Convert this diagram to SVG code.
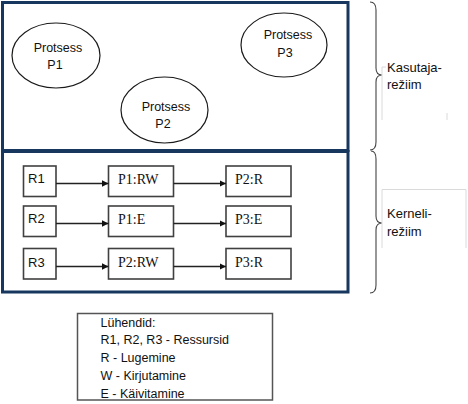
<svg xmlns="http://www.w3.org/2000/svg" width="468" height="404" viewBox="0 0 468 404">
<style>
.frame{fill:none;stroke:#17375e;stroke-width:3}
.ell{fill:#fff;stroke:#1a1a1a;stroke-width:1.2}
.box{fill:#fff;stroke:#404040;stroke-width:1.6}
.conn{stroke:#222;stroke-width:1.3;fill:none}
.brace{fill:none;stroke:#444;stroke-width:1.1}
.faint{fill:none;stroke:#dadada;stroke-width:1}
.cal{font-family:"Liberation Sans",Arial,sans-serif;font-size:12.5px;fill:#111}
.ser{font-family:"Liberation Serif","Times New Roman",serif;font-size:14px;fill:#111}
.mid{text-anchor:middle}
</style>
<defs>
<marker id="ah" viewBox="0 0 10 10" refX="10" refY="5" markerWidth="6.5" markerHeight="6.5" markerUnits="userSpaceOnUse" orient="auto">
<path d="M0,0 L10,5 L0,10 z" fill="#111"/>
</marker>
</defs>
<rect x="0" y="0" width="468" height="404" fill="#fff"/>
<g id="frame">
<rect class="frame" x="2.5" y="2.5" width="345.5" height="148"/>
<rect class="frame" x="2.5" y="151.5" width="345.5" height="140.5"/>
</g>
<g id="P1">
<ellipse class="ell" cx="56" cy="55.5" rx="44" ry="32.5"/>
<text class="cal mid" x="58" y="52">Protsess</text>
<text class="cal mid" x="55" y="69">P1</text>
</g>
<g id="P2">
<ellipse class="ell" cx="164.5" cy="110" rx="43.5" ry="33"/>
<text class="cal mid" x="166" y="111">Protsess</text>
<text class="cal mid" x="163" y="128">P2</text>
</g>
<g id="P3">
<ellipse class="ell" cx="284" cy="45" rx="43" ry="32"/>
<text class="cal mid" x="288" y="39">Protsess</text>
<text class="cal mid" x="285" y="57">P3</text>
</g>
<g id="R1"><rect class="box" x="23.5" y="166" width="32.5" height="30.5"/><text class="cal" x="28" y="183" style="font-size:13px">R1</text></g>
<g id="R2"><rect class="box" x="23.5" y="206" width="32.5" height="30.5"/><text class="cal" x="28" y="223" style="font-size:13px">R2</text></g>
<g id="R3"><rect class="box" x="23.5" y="248.5" width="32.5" height="30.5"/><text class="cal" x="28" y="266.5" style="font-size:13px">R3</text></g>
<g id="P1RW"><rect class="box" x="108.5" y="166" width="65" height="30.5"/><text class="ser" x="118" y="183.5">P1:RW</text></g>
<g id="P1E"><rect class="box" x="108.5" y="206" width="65" height="30.5"/><text class="ser" x="118" y="223.5">P1:E</text></g>
<g id="P2RW"><rect class="box" x="108.5" y="248.5" width="65" height="30.5"/><text class="ser" x="118" y="266.5">P2:RW</text></g>
<g id="P2R"><rect class="box" x="226" y="166" width="65" height="30.5"/><text class="ser" x="235" y="183.5">P2:R</text></g>
<g id="P3E"><rect class="box" x="226" y="206" width="65" height="30.5"/><text class="ser" x="235" y="223.5">P3:E</text></g>
<g id="P3R"><rect class="box" x="226" y="248.5" width="65" height="30.5"/><text class="ser" x="235" y="266.5">P3:R</text></g>
<g id="connectors">
<line class="conn" x1="56" y1="183.5" x2="108.5" y2="183.5" marker-end="url(#ah)"/>
<line class="conn" x1="173.5" y1="183.5" x2="226" y2="183.5" marker-end="url(#ah)"/>
<line class="conn" x1="56" y1="223.5" x2="108.5" y2="223.5" marker-end="url(#ah)"/>
<line class="conn" x1="173.5" y1="223.5" x2="226" y2="223.5" marker-end="url(#ah)"/>
<line class="conn" x1="56" y1="266.5" x2="108.5" y2="266.5" marker-end="url(#ah)"/>
<line class="conn" x1="173.5" y1="266.5" x2="226" y2="266.5" marker-end="url(#ah)"/>
</g>
<g id="brace-user">
<path class="brace" d="M370,2 Q376,2 376,10 L376,68 Q376,75 382,75 Q376,75 376,82 L376,142 Q376,150 370,150"/>
<path class="faint" d="M382,67 L382,120 M382,67 L386,67 M447,113 L447,120"/>
<text class="cal" x="387" y="72" style="font-size:13px">Kasutaja-</text>
<text class="cal" x="387" y="89" style="font-size:13px">režiim</text>
</g>
<g id="brace-kernel">
<path class="brace" d="M371,151 Q376,151 376,159 L376,216 Q376,223 382,223 Q376,223 376,230 L376,285 Q376,293 370,293"/>
<path class="faint" d="M382,248 L382,189.5 L466,189.5 L466,248"/>
<text class="cal" x="387" y="218" style="font-size:13px">Kerneli-</text>
<text class="cal" x="387" y="236" style="font-size:13px">režiim</text>
</g>
<g id="legend">
<rect x="77.5" y="313.5" width="195" height="86.5" fill="#fff" stroke="#555" stroke-width="1.5"/>
<text class="cal" x="100.5" y="326.5">Lühendid:</text>
<text class="cal" x="100.5" y="344.3">R1, R2, R3 - Ressursid</text>
<text class="cal" x="100.5" y="362">R - Lugemine</text>
<text class="cal" x="100.5" y="380">W - Kirjutamine</text>
<text class="cal" x="100.5" y="397.5">E - Käivitamine</text>
</g>
</svg>
